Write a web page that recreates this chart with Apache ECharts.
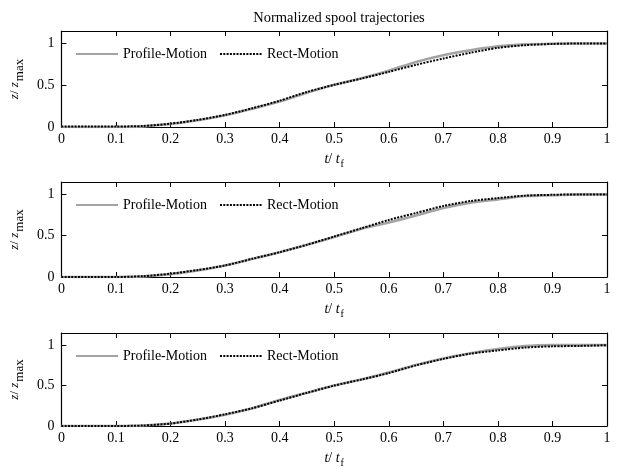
<!DOCTYPE html>
<html>
<head>
<meta charset="utf-8">
<script src="https://cdn.jsdelivr.net/npm/echarts@6/dist/echarts.min.js"></script>
<style>html,body{margin:0;padding:0;background:#fff}#c{width:620px;height:469px}</style>
</head>
<body>
<div id="c"></div>
<script>
const tValues = [0,0.05,0.1,0.15,0.2,0.25,0.3,0.35,0.4,0.45,0.5,0.55,0.6,0.65,0.7,0.75,0.8,0.85,0.9,0.95,1];
const profile1 = [0,0,0,0.008,0.035,0.08,0.14,0.22,0.305,0.41,0.505,0.585,0.675,0.78,0.86,0.92,0.967,0.99,0.998,1,1];
const rect1    = [0.005,0.005,0.006,0.012,0.04,0.085,0.145,0.225,0.315,0.42,0.505,0.58,0.66,0.745,0.82,0.89,0.948,0.98,0.995,1,1];
const profile2 = [0,0,0,0.008,0.035,0.08,0.14,0.22,0.3,0.39,0.485,0.585,0.66,0.745,0.835,0.9,0.94,0.98,0.99,1,1];
const rect2    = [0,0,0,0.01,0.04,0.085,0.14,0.22,0.3,0.39,0.49,0.59,0.69,0.775,0.86,0.92,0.955,0.985,0.995,1,1];
const profile3 = [0,0,0,0.006,0.03,0.08,0.14,0.22,0.32,0.41,0.5,0.575,0.66,0.755,0.835,0.9,0.952,0.988,1,1,1];
const rect3    = [0,0,0,0.006,0.03,0.08,0.145,0.22,0.315,0.41,0.5,0.575,0.655,0.75,0.83,0.895,0.935,0.97,0.985,0.99,1];
const yTicks = [0, 0.5, 1];
const xTicks = [0,0.1,0.2,0.3,0.4,0.5,0.6,0.7,0.8,0.9,1];
const seriesNames = ['Profile-Motion', 'Rect-Motion'];
const titleText = 'Normalized spool trajectories';

const FONT = '"Liberation Serif", "DejaVu Serif", serif';
const chart = echarts.init(document.getElementById('c'));
const grids = [
  {left: 61, right: 13, top: 31, height: 96},
  {left: 61, right: 13, top: 182, height: 95},
  {left: 61, right: 13, top: 333, height: 95}
];
const pairs = [[profile1, rect1],[profile2, rect2],[profile3, rect3]];
const xAxis = [], yAxis = [], series = [], legend = [];
grids.forEach((g, i) => {
  const axisLine = {show: true, onZero: false, lineStyle: {color: '#000', width: 1.2}};
  const tick = {inside: true, length: 5, lineStyle: {color: '#000'}};
  xAxis.push({
    type: 'value', gridIndex: i, min: 0, max: 1, interval: 0.1, position: 'bottom',
    axisLine, splitLine: {show: false}, axisTick: tick,
    axisLabel: {color: '#000', fontFamily: FONT, fontSize: 14, margin: 5,
      customValues: xTicks, formatter: v => String(Math.round(v * 10) / 10)},
    name: '{i|t}{n|/ }{i|t}{s|f}', nameLocation: 'middle', nameGap: 22,
    nameTextStyle: {rich: {
      i: {fontFamily: FONT, fontStyle: 'italic', fontSize: 14, color: '#000'},
      n: {fontFamily: FONT, fontSize: 14, color: '#000'},
      s: {fontFamily: FONT, fontSize: 10, color: '#000', padding: [10, 0, 0, 1]}
    }}
  });
  xAxis.push({
    type: 'value', gridIndex: i, min: 0, max: 1, interval: 0.1, position: 'top',
    axisLine, splitLine: {show: false}, axisTick: tick,
    axisLabel: {show: false}
  });
  yAxis.push({
    type: 'value', gridIndex: i, min: 0, max: 1.15, position: 'left',
    axisLine, splitLine: {show: false},
    axisTick: Object.assign({customValues: yTicks}, tick),
    axisLabel: {color: '#000', fontFamily: FONT, fontSize: 14, margin: 7, customValues: yTicks,
      formatter: v => String(v)},
    name: '{i|z}{n|/ }{i|z}{s|max}', nameLocation: 'middle', nameGap: 29, nameRotate: 90,
    nameTextStyle: {rich: {
      i: {fontFamily: FONT, fontStyle: 'italic', fontSize: 13, color: '#000'},
      n: {fontFamily: FONT, fontSize: 13, color: '#000'},
      s: {fontFamily: FONT, fontSize: 13, color: '#000', padding: [10, 0, 0, 1]}
    }}
  });
  yAxis.push({
    type: 'value', gridIndex: i, min: 0, max: 1.15, position: 'right',
    axisLine, splitLine: {show: false},
    axisTick: Object.assign({customValues: yTicks}, tick),
    axisLabel: {show: false}
  });
  const [p, r] = pairs[i];
  series.push({
    name: seriesNames[0], type: 'line', xAxisIndex: 2 * i, yAxisIndex: 2 * i,
    data: tValues.map((t, k) => [t, p[k]]), symbol: 'none', smooth: 0.25,
    lineStyle: {color: '#a3a3a3', width: 2.6}, itemStyle: {color: '#a3a3a3'}, z: 2
  });
  series.push({
    name: seriesNames[1], type: 'line', xAxisIndex: 2 * i, yAxisIndex: 2 * i,
    data: tValues.map((t, k) => [t, r[k]]), symbol: 'none', smooth: 0.25,
    lineStyle: {color: '#000', width: 2, type: [2, 1.3]}, itemStyle: {color: '#000'}, z: 3
  });
  legend.push({
    data: seriesNames, left: 70, top: g.top + 11, orient: 'horizontal',
    itemWidth: 42, itemHeight: 10, itemGap: 12,
    itemStyle: {opacity: 0},
    textStyle: {fontFamily: FONT, fontSize: 14, color: '#000'},
    selectedMode: false
  });
});
chart.setOption({
  animation: false,
  backgroundColor: '#fff',
  title: {text: titleText, left: 334, textAlign: 'center', top: 6,
    textStyle: {fontFamily: FONT, fontSize: 14.5, fontWeight: 'normal', color: '#000'}},
  grid: grids,
  xAxis, yAxis, series, legend
});
</script>
</body>
</html>
